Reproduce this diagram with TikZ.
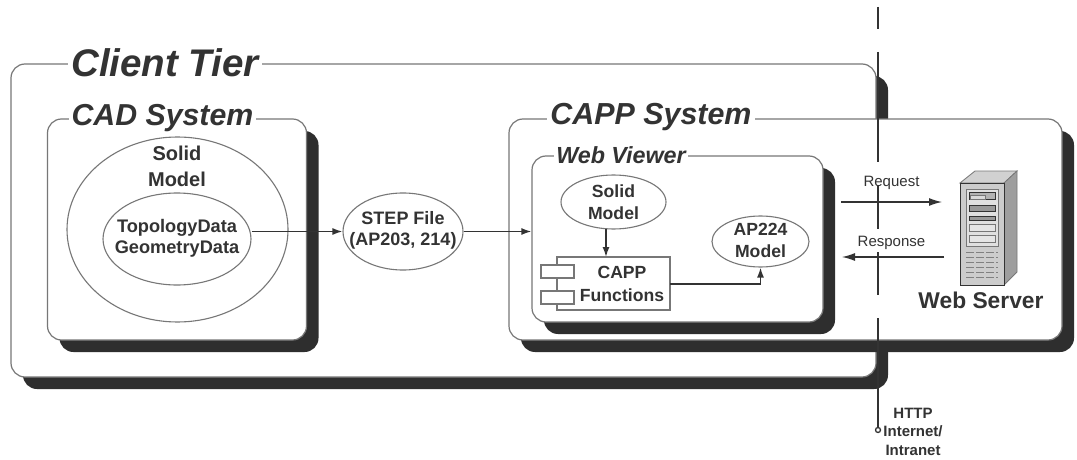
\documentclass[tikz,border=0pt]{standalone}
\usepackage{fontspec}
\setmainfont{Liberation Sans}
\usetikzlibrary{shapes.geometric,shadows,arrows.meta}
\definecolor{ink}{HTML}{333333}
\definecolor{edge}{HTML}{777777}
\definecolor{shade}{HTML}{2E2E2E}
\tikzset{
  panel/.style={draw=edge,line width=1.2pt,fill=white,rounded corners=14pt,inner sep=0pt,
    general shadow={shadow xshift=12pt,shadow yshift=-12pt,fill=shade,draw=none}},
  title/.style={fill=white,inner sep=3pt,text=ink,font=\bfseries\itshape},
  oval/.style={ellipse,draw=edge,line width=1.1pt,fill=white,inner sep=0pt},
  plate/.style={rectangle,draw=edge,line width=1.1pt,fill=white,inner sep=0pt},
  flow/.style={draw=ink,line width=1.5pt,-{Latex[length=10pt,width=7pt]}},
  msg/.style={draw=ink,line width=1.2pt,-{Latex[length=13pt,width=8pt]}},
  caption/.style={text=ink,inner sep=0pt,align=center},
  inner text/.style={caption,font=\bfseries\fontsize{17.6}{21.5}\selectfont},
  srv/.style={draw=#1,line width=.8pt},
}
\begin{document}
\begin{tikzpicture}[x=1pt,y=-1pt]
\useasboundingbox[fill=white] (0,0) rectangle (1077,460);
% panels
\node[panel,minimum width=865pt,minimum height=313pt] (client) at (443.5,220.5) {};
\node[title,font=\bfseries\itshape\fontsize{38.5}{38.5}\selectfont] (clientT) at (165,63) {Client Tier};
\node[panel,minimum width=259pt,minimum height=221pt] (cad) at (177,229.5) {};
\node[title,font=\bfseries\itshape\fontsize{30.3}{30.3}\selectfont] (cadT) at (162.5,118) {CAD System};
\node[panel,minimum width=553pt,minimum height=221pt] (capp) at (785.5,229.5) {};
\node[title,font=\bfseries\itshape\fontsize{30.4}{30.4}\selectfont] (cappT) at (651,117) {CAPP System};
\node[panel,minimum width=291pt,minimum height=166pt] (web) at (677.5,239) {};
\node[title,font=\bfseries\itshape\fontsize{23.3}{23.3}\selectfont,inner sep=2pt] (webT) at (621,155) {Web Viewer};
% CAD contents
\node[oval,minimum width=221pt,minimum height=185pt] (solidA) at (177.5,229.5) {};
\node[caption,font=\bfseries\fontsize{20}{26}\selectfont] (solidAT) at (177,166) {Solid\\Model};
\node[oval,minimum width=148pt,minimum height=92pt] (topo) at (177,239) {};
\node[inner text,font=\bfseries\fontsize{18.2}{21.5}\selectfont] (topoT) at (177,238.5) {TopologyData\\GeometryData};
% STEP
\node[oval,minimum width=120pt,minimum height=77pt] (stepf) at (403,231.5) {};
\node[inner text,font=\bfseries\fontsize{18}{21.5}\selectfont] (stepT) at (403,230.5) {STEP File\\(AP203, 214)};
% Web viewer contents
\node[oval,minimum width=105pt,minimum height=54pt] (solidB) at (613.5,202) {};
\node[inner text] (solidBT) at (613.5,202) {Solid\\Model};
\node[oval,minimum width=97pt,minimum height=51pt] (ap) at (760.5,241.5) {};
\node[inner text] (apT) at (760.5,240.5) {AP224\\Model};
\node[plate,minimum width=113pt,minimum height=53pt] (fn) at (613.5,283.5) {};
\node[plate,minimum width=33pt,minimum height=13pt] (tabA) at (557.5,271.5) {};
\node[plate,minimum width=33pt,minimum height=13pt] (tabB) at (557.5,297.5) {};
\node[inner text,font=\bfseries\fontsize{17.6}{23}\selectfont] (fnT) at (622,283.5) {CAPP\\Functions};
% connectors
\draw[flow] (stepf.west -| topo.east) -- (stepf.west);
\coordinate (webIn) at (web.west |- stepf.east);
\draw[flow] (stepf.east) -- (webIn);
\coordinate (fnTop) at (606,257);
\coordinate (solidBot) at (606,229);
\draw[flow] (solidBot) -- (fnTop);
\coordinate (fnOut) at (670,284);
\draw[flow] (fnOut) -| (ap.south);
% server
\fill[white!82!black,srv=edge] (960,183) -- (975,171) -- (1017,171) -- (1004,183) -- cycle;
\fill[white!62!black,srv=edge] (1004,183) -- (1017,171) -- (1017,272) -- (1004,285) -- cycle;
\path[fill=white!80!black,draw=ink,line width=.9pt] (960,183) rectangle (1004,285);
\path[fill=white!88!black,draw=edge,line width=.8pt] (966,189) rectangle (998,246);
\path[fill=white!70!black,draw=ink,line width=.6pt] (969,192) rectangle (995,199);
\path[fill=white!85!black,draw=edge,line width=.6pt] (970,195) rectangle (985,199);
\path[fill=white!60!black,draw=ink,line width=.8pt] (969,205) rectangle (995,211);
\path[fill=white!60!black,draw=ink,line width=.8pt] (969,216) rectangle (995,220);
\path[fill=white!90!black,draw=edge,line width=.7pt] (969,224) rectangle (995,231);
\path[fill=white!90!black,draw=edge,line width=.7pt] (969,235) rectangle (995,242);
\foreach \yy in {252,257,262,267,272,277}{\draw[white!50!black,line width=1pt,dash pattern=on 8pt off 2pt] (966,\yy) -- (998,\yy);}
% messages
\coordinate (reqA) at (841,202);
\coordinate (reqB) at (942,202);
\coordinate (resA) at (944,257);
\coordinate (resB) at (842,257);
\draw[msg] (reqA) -- (reqB);
\draw[msg] (resA) -- (resB);
\node[caption,font=\fontsize{15}{15}\selectfont] (reqT) at (891.5,183) {Request};
\node[caption,font=\fontsize{15}{15}\selectfont] (resT) at (891.5,243) {Response};
\node[caption,font=\bfseries\fontsize{22.8}{22.8}\selectfont] (srvT) at (981,300) {Web Server};
% network line
\coordinate (netTop) at (878,7);
\node[circle,draw=ink,line width=1.3pt,fill=white,inner sep=0pt,minimum size=5pt] (netEnd) at (878,430) {};
\draw[draw=ink,line width=2.6pt,dash pattern=on 22pt off 23pt on 110pt off 23pt on 44pt off 23pt on 43pt off 23pt on 200pt] (netTop) -- (netEnd.north);
\node[caption,font=\bfseries\fontsize{15}{18.5}\selectfont] (http) at (913,431.5) {HTTP\\Internet/\\Intranet};
\end{tikzpicture}
\end{document}
